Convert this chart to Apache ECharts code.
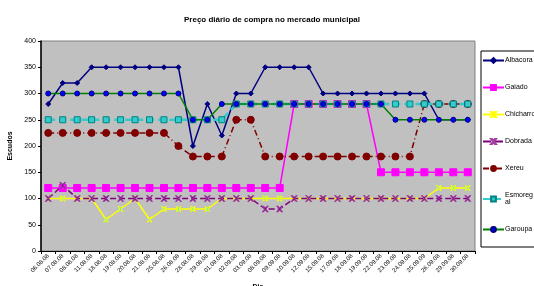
<!DOCTYPE html>
<html>
<head>
<meta charset="utf-8">
<script src="https://cdn.jsdelivr.net/npm/echarts@6/dist/echarts.min.js"></script>
<style>
  html, body { margin: 0; padding: 0; background: #fff; }
  #chart { width: 534px; height: 286px; }
</style>
</head>
<body>
<div id="chart"></div>
<script>
// datas (eixo x)
var dias = ['06.08.08', '07.08.08', '08.08.08', '11.08.08', '18.08.08', '19.08.08', '20.08.08', '21.08.08',
    '25.08.08', '26.08.08', '28.08.08', '29.08.08', '01.09.08', '02.09.08', '03.09.08', '08.09.08',
    '09.09.08', '10.09.08', '12.09.08', '15.09.08', '17.09.08', '18.09.08', '19.09.08', '22.09.08',
    '23.09.08', '24.09.08', '25.09.09', '26.09.08', '29.09.08', '30.09.08'];

// precos por especie
var albacora = [280, 320, 320, 350, 350, 350, 350, 350, 350, 350, 200, 280, 220, 300, 300, 350,
    350, 350, 350, 300, 300, 300, 300, 300, 300, 300, 300, 250, 250, 250];
var gaiado = [120, 120, 120, 120, 120, 120, 120, 120, 120, 120, 120, 120, 120, 120, 120, 120,
    120, 280, 280, 280, 280, 280, 280, 150, 150, 150, 150, 150, 150, 150];
var chicharro = [100, 100, 100, 100, 60, 80, 100, 60, 80, 80, 80, 80, 100, 100, 100, 100,
    100, 100, 100, 100, 100, 100, 100, 100, 100, 100, 100, 120, 120, 120];
var dobrada = [100, 125, 100, 100, 100, 100, 100, 100, 100, 100, 100, 100, 100, 100, 100, 80,
    80, 100, 100, 100, 100, 100, 100, 100, 100, 100, 100, 100, 100, 100];
var xereu = [225, 225, 225, 225, 225, 225, 225, 225, 225, 200, 180, 180, 180, 250, 250, 180,
    180, 180, 180, 180, 180, 180, 180, 180, 180, 180, 280, 280, 280, 280];
var esmoregal = [250, 250, 250, 250, 250, 250, 250, 250, 250, 250, 250, 250, 250, 280, 280, 280,
    280, 280, 280, 280, 280, 280, 280, 280, 280, 280, 280, 280, 280, 280];
var garoupa = [300, 300, 300, 300, 300, 300, 300, 300, 300, 300, 250, 250, 280, 280, 280, 280,
    280, 280, 280, 280, 280, 280, 280, 280, 250, 250, 250, 250, 250, 250];

var yTicks = [0, 50, 100, 150, 200, 250, 300, 350, 400];

var X_PATH = 'path://M0,0 L2,0 L5,3 L8,0 L10,0 L6,5 L10,10 L8,10 L5,7 L2,10 L0,10 L4,5 Z';

function serie(nome, dados, cor, tipoLinha, largura, simbolo, tam, corMarca, borda) {
    return {
        name: nome,
        type: 'line',
        data: dados,
        symbol: simbolo,
        symbolSize: tam,
        showAllSymbol: true,
        lineStyle: { color: cor, width: largura, type: tipoLinha },
        itemStyle: { color: corMarca, borderColor: borda, borderWidth: 1 },
        emphasis: { disabled: true },
        animation: false
    };
}

var chartDom = echarts.init(document.getElementById('chart'));
chartDom.setOption({
    backgroundColor: '#ffffff',
    title: {
        text: 'Preço diário de compra no mercado municipal',
        left: 267, top: 11, textAlign: 'center',
        textStyle: { fontFamily: 'Liberation Sans', fontSize: 8, fontWeight: 'bold', color: '#000' }
    },
    legend: {
        orient: 'vertical',
        left: 481, top: 51,
        width: 52, height: 194,
        padding: [6, 2, 14, 1],
        itemGap: 20,
        itemWidth: 21, itemHeight: 6,
        borderColor: '#000', borderWidth: 1,
        backgroundColor: '#fff',
        textStyle: { fontFamily: 'Liberation Sans', fontSize: 7, color: '#000', padding: [0, 0, 0, -4] },
        formatter: function (n) { return n === 'Esmoregal' ? 'Esmoreg\nal' : n; },
        data: ['Albacora', 'Gaiado', 'Chicharro', 'Dobrada', 'Xereu', 'Esmoregal', 'Garoupa']
    },
    grid: {
        left: 41, top: 41, right: 59, bottom: 35,
        containLabel: false,
        outerBoundsMode: 'none',
        show: true, backgroundColor: '#c0c0c0', borderColor: '#808080', borderWidth: 1
    },
    xAxis: {
        type: 'category',
        data: dias,
        name: 'Dia',
        nameLocation: 'middle',
        nameGap: 33,
        nameTextStyle: { fontFamily: 'Liberation Sans', fontSize: 7, fontWeight: 'bold', color: '#000' },
        axisLine: { lineStyle: { color: '#000', width: 1 } },
        axisTick: { show: true, alignWithLabel: false, length: 3, lineStyle: { color: '#000' } },
        axisLabel: { rotate: 45, interval: 0, fontFamily: 'Liberation Sans', fontSize: 6, color: '#000', margin: 4 },
        splitLine: { show: false }
    },
    yAxis: {
        type: 'value',
        min: yTicks[0], max: yTicks[yTicks.length - 1], interval: 50,
        name: 'Escudos',
        nameLocation: 'middle',
        nameGap: 22,
        nameRotate: 90,
        nameTextStyle: { fontFamily: 'Liberation Sans', fontSize: 7, fontWeight: 'bold', color: '#000' },
        axisLine: { show: true, lineStyle: { color: '#000', width: 1.5 } },
        axisTick: { show: true, inside: false, length: 3, lineStyle: { color: '#000' } },
        axisLabel: { fontFamily: 'Liberation Sans', fontSize: 7, color: '#000', margin: 5 },
        splitLine: { show: false }
    },
    series: [
        serie('Albacora', albacora, '#000080', 'solid', 1.5, 'diamond', 5, '#000080', '#000080'),
        serie('Gaiado', gaiado, '#ff00ff', 'solid', 1.5, 'rect', 7, '#ff00ff', '#ff00ff'),
        serie('Chicharro', chicharro, '#ffff00', 'solid', 1.5, X_PATH, 5, '#00ffff', '#ffff00'),
        serie('Dobrada', dobrada, '#800080', 'dashed', 1.5, X_PATH, 6, '#800080', '#a040a0'),
        serie('Xereu', xereu, '#800000', [6, 3, 1, 3], 1.5, 'circle', 7, '#800000', '#800000'),
        serie('Esmoregal', esmoregal, '#33cccc', [7, 4], 2.5, 'rect', 6, '#33cccc', '#008080'),
        serie('Garoupa', garoupa, '#008000', 'solid', 1.5, 'circle', 5, '#0000ff', '#000080')
    ]
});
</script>
</body>
</html>
